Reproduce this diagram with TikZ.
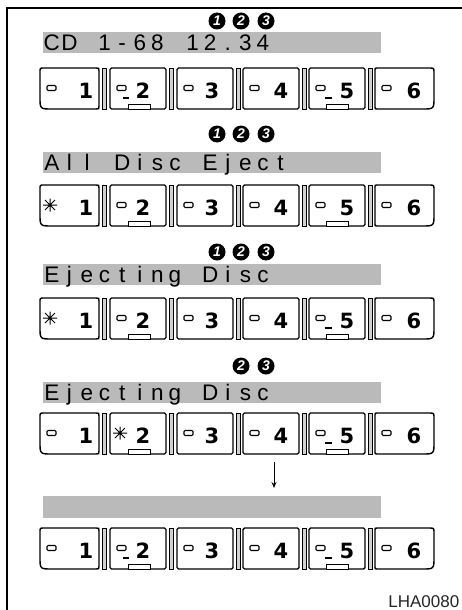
\documentclass[tikz,border=0pt]{standalone}
\usepackage{fontspec}
\setmainfont{Liberation Sans}
\newfontfamily\keyfont{DejaVu Sans}
\usetikzlibrary{arrows.meta}
\tikzset{
  btn/.style={draw=black,line width=1.4pt,fill=white},
  sepbar/.style={draw=black,line width=0.7pt,fill=black!18},
  lcd/.style={fill=black!27},
  lcdtxt/.style={inner sep=0pt,anchor=base,font=\fontsize{22.5}{22.5}\selectfont},
  keynum/.style={inner sep=0pt,anchor=base,font=\keyfont\fontsize{21}{21}\selectfont\bfseries},
  pill/.style={draw=black,line width=1.1pt,fill=white,rounded corners=1.2pt},
  tabbox/.style={draw=black,line width=0.9pt,fill=white},
  circnum/.style={circle,fill=black,inner sep=0pt,minimum size=17pt,text=white,font=\fontsize{14}{14}\selectfont\bfseries\itshape},
}
\newcommand\StarMark[2]{%
  \draw[line width=1pt] ({#1-7},#2) -- ({#1+7},#2) (#1,{#2-6.5}) -- (#1,{#2+6.5})
     ({#1-5},{#2-5}) -- ({#1+5},{#2+5}) ({#1-5},{#2+5}) -- ({#1+5},{#2-5});}
% #1 name, #2 top, #3 star button (0,1,2), #4 underscore b2, #5 underscore b5
\newcommand\KeyRow[5]{%
  \pgfmathsetmacro\TT{#2}\pgfmathsetmacro\BB{#2+41}%
  \draw[btn] (40,\TT+4) .. controls (40,\TT) .. (44,\TT) -- (96,\TT) .. controls (99,\TT) .. (99,\TT+3)
     -- (99,\BB-3) .. controls (99,\BB) .. (96,\BB) -- (52,\BB) .. controls (40,\BB) .. (40,\BB-12) -- cycle;
  \draw[btn] (375,\TT+2) .. controls (375,\TT) .. (377,\TT) -- (429,\TT) .. controls (434,\TT) .. (434,\TT+5)
     -- (434,\BB-12) .. controls (434,\BB) .. (422,\BB) -- (377,\BB) .. controls (375,\BB) .. (375,\BB-2) -- cycle;
  \foreach \L/\R in {110/166,177/233,243/299,309/365}
    \draw[btn,rounded corners=1.5pt] (\L,\TT) rectangle (\R,\BB);
  \foreach \x in {104.5,171.5,238,304,370}
    \draw[sepbar] (\x-2,\TT) rectangle (\x+2,\BB);
  \draw[tabbox] (128,\BB-4.5) rectangle (150,\BB);
  \draw[tabbox] (326,\BB-4.5) rectangle (348,\BB);
  \foreach \k/\L in {1/40,2/110,3/177,4/243,5/309,6/375}{%
    \ifnum\k=#3\relax
      \StarMark{\L+10}{\TT+20}
    \else
      \draw[pill] (\L+7,\TT+17.5) rectangle (\L+16,\TT+22.5);
    \fi}
  \foreach \n/\nx in {1/86,2/143,3/212,4/281,5/347,6/414}
    \node[keynum] (#1n\n) at (\nx,\TT+30.5) {\n};
  \ifnum#4=1 \draw[line width=1.3pt] (123,\TT+30) -- (129,\TT+30);\fi
  \ifnum#5=1 \draw[line width=1.3pt] (325,\TT+30) -- (332,\TT+30);\fi
}
% #1 name, #2 baseline, #3 chars
\newcommand\LcdRow[3]{%
  \foreach \c [count=\i from 0] in {#3}
    \node[lcdtxt] (#1c\i) at ({43+17.6*(\i+0.5)},#2) {\c};}
\begin{document}
\begin{tikzpicture}[x=1pt,y=-1pt]
\useasboundingbox (0,0) rectangle (462,610);
\fill[white] (0,0) rectangle (462,610);
\draw[line width=1.2pt] (7,610) -- (7,8) -- (462,8);

% row 1
\node[circnum] (r1a) at (217,21) {1};
\node[circnum] (r1b) at (241,21) {2};
\node[circnum] (r1c) at (266,21) {3};
\fill[lcd] (43,32) rectangle (381,53);
\LcdRow{r1}{50.5}{C,D,{},1,-,6,8,{},1,2,.,3,4}
\KeyRow{r1}{68}{0}{1}{1}

% row 2
\node[circnum] (r2a) at (217,134) {1};
\node[circnum] (r2b) at (241,134) {2};
\node[circnum] (r2c) at (266,134) {3};
\fill[lcd] (43,152) rectangle (381,173);
\LcdRow{r2}{170.5}{A,l,l,{},D,i,s,c,{},E,j,e,c,t}
\KeyRow{r2}{185}{1}{0}{0}

% row 3
\node[circnum] (r3a) at (217,252) {1};
\node[circnum] (r3b) at (241,252) {2};
\node[circnum] (r3c) at (266,252) {3};
\fill[lcd] (43,264) rectangle (381,285);
\LcdRow{r3}{282.5}{E,j,e,c,t,i,n,g,{},D,i,s,c}
\KeyRow{r3}{298}{1}{0}{1}

% row 4
\node[circnum] (r4b) at (241,366) {2};
\node[circnum] (r4c) at (266,366) {3};
\fill[lcd] (43,382) rectangle (381,403);
\LcdRow{r4}{400.5}{E,j,e,c,t,i,n,g,{},D,i,s,c}
\KeyRow{r4}{413}{2}{0}{1}

% arrow
\coordinate (arrS) at (274,462);
\coordinate (arrE) at (274,488);
\draw[line width=0.9pt,-{Stealth[length=6pt,width=5pt]}] (arrS) -- (arrE);

% row 5
\fill[lcd] (43,496) rectangle (381,518);
\KeyRow{r5}{528}{0}{1}{1}

\node[inner sep=0pt,anchor=base east,text=black!85,font=\fontsize{17}{17}\selectfont] (code) at (459.5,607) {LHA0080};
\end{tikzpicture}
\end{document}
